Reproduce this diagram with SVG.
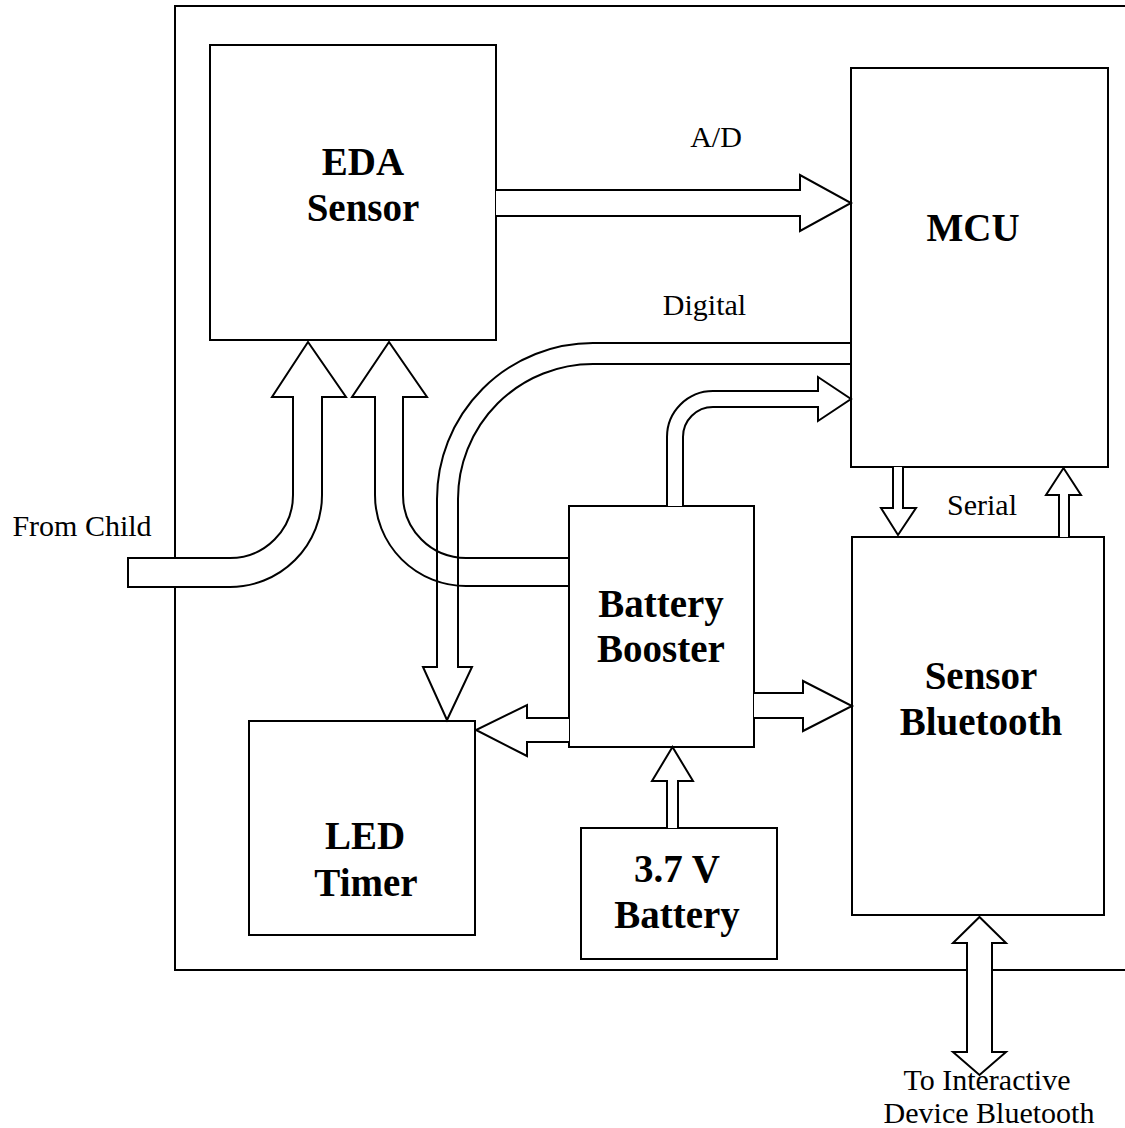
<svg xmlns="http://www.w3.org/2000/svg" width="1125" height="1128" viewBox="0 0 1125 1128">
<style>
.box{fill:#fff;stroke:#000;stroke-width:2}
.frame{fill:none;stroke:#000;stroke-width:2}
.arr{fill:#fff;stroke:#000;stroke-width:2;stroke-linejoin:miter}
.arrn{fill:none;stroke:#000;stroke-width:2;stroke-linejoin:miter}
.bl{font-family:"Liberation Serif","Times New Roman",serif;font-weight:bold;font-size:39px;text-anchor:middle;fill:#000}
.lb{font-family:"Liberation Serif","Times New Roman",serif;font-size:30px;text-anchor:middle;fill:#000}
</style>
<rect width="1125" height="1128" fill="#fff"/>
<rect class="frame" x="175" y="6" width="1000" height="964"/>
<g id="eda">
<rect class="box" x="210" y="45" width="286" height="295"/>
<text class="bl" x="363" y="175">EDA</text>
<text class="bl" x="363" y="221">Sensor</text>
</g>
<g id="mcu">
<rect class="box" x="851" y="68" width="257" height="399"/>
<text class="bl" x="973" y="241">MCU</text>
</g>
<g id="booster">
<rect class="box" x="569" y="506" width="185" height="241"/>
<text class="bl" x="661" y="617">Battery</text>
<text class="bl" x="661" y="662">Booster</text>
</g>
<g id="bluetooth">
<rect class="box" x="852" y="537" width="252" height="378"/>
<text class="bl" x="981" y="689">Sensor</text>
<text class="bl" x="981" y="735">Bluetooth</text>
</g>
<g id="led">
<rect class="box" x="249" y="721" width="226" height="214"/>
<text class="bl" x="365" y="849">LED</text>
<text class="bl" x="366" y="896">Timer</text>
</g>
<g id="battery">
<rect class="box" x="581" y="828" width="196" height="131"/>
<text class="bl" x="677" y="882">3.7 V</text>
<text class="bl" x="677" y="928">Battery</text>
</g>
<g id="connectors">
<path class="arr" d="M496,190 L800,190 L800,175 L851,203 L800,231 L800,216 L496,216"/>
<path class="arrn" d="M851,343 L593,343 A156,156 0 0 0 437,499 L437,667 L423,667 L447,720 L472,667 L458,667 L458,499 A135,135 0 0 1 593,364 L851,364"/>
<path class="arr" d="M667,506 L667,437 A46,46 0 0 1 713,391 L818,391 L818,377 L851,399 L818,421 L818,407 L713,407 A30,30 0 0 0 683,437 L683,506"/>
<path class="arr" d="M128,558 L230,558 A63,63 0 0 0 293,495 L293,397 L272,397 L308,342 L346,397 L322,397 L322,495 A92,92 0 0 1 230,587 L128,587 Z"/>
<path class="arrn" d="M569,558 L466,558 A63,63 0 0 1 403,495 L403,397 L427,397 L389,342 L352,397 L375,397 L375,495 A91,91 0 0 0 466,586 L569,586"/>
<path class="arr" d="M569,718 L527,718 L527,705 L476,730 L527,756 L527,742 L569,742"/>
<path class="arr" d="M754,693 L803,693 L803,681 L852,706 L803,731 L803,718 L754,718"/>
<path class="arr" d="M667,828 L667,781 L652,781 L672.5,747 L693,781 L678,781 L678,828"/>
<path class="arr" d="M893,467 L893,508 L881,508 L898,535 L916,508 L903,508 L903,467"/>
<path class="arr" d="M1059,537 L1059,495 L1046,495 L1063.5,468 L1081,495 L1069,495 L1069,537"/>
<path class="arr" d="M979.5,917 L1006,943 L992,943 L992,1052 L1006,1052 L979.5,1075 L953,1052 L967,1052 L967,943 L953,943 Z"/>
<text class="lb" x="716" y="147">A/D</text>
<text class="lb" x="704.5" y="315">Digital</text>
<text class="lb" x="982" y="515">Serial</text>
<text class="lb" x="82" y="536">From Child</text>
<text class="lb" x="987" y="1090">To Interactive</text>
<text class="lb" x="989" y="1123">Device Bluetooth</text>
</g>
</svg>
